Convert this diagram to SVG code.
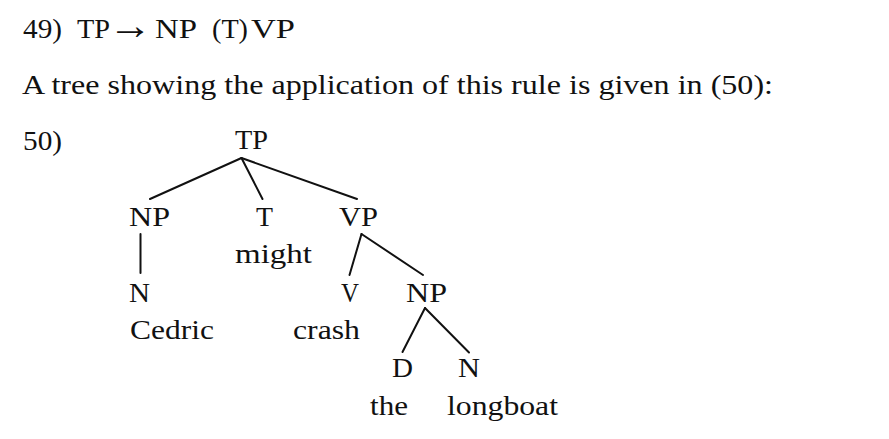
<svg xmlns="http://www.w3.org/2000/svg" width="889" height="439" viewBox="0 0 889 439">
<style>
text{font-family:"Liberation Serif","DejaVu Serif",serif;font-size:28px;fill:#111;}
.e{stroke:#111;stroke-width:2;fill:none;stroke-linecap:round;}
</style>
<rect width="889" height="439" fill="#fff"/>
<g id="header">
<text x="23" y="38" textLength="39" lengthAdjust="spacingAndGlyphs">49)</text>
<text x="77" y="38" textLength="33" lengthAdjust="spacingAndGlyphs">TP</text>
<text x="108" y="39" style="font-size:40px" textLength="44" lengthAdjust="spacingAndGlyphs">→</text>
<text x="155" y="38" textLength="42" lengthAdjust="spacingAndGlyphs">NP</text>
<text x="212" y="38" textLength="36" lengthAdjust="spacingAndGlyphs">(T)</text>
<text x="251" y="38" textLength="44" lengthAdjust="spacingAndGlyphs">VP</text>
<text x="22" y="94" textLength="751" lengthAdjust="spacingAndGlyphs">A tree showing the application of this rule is given in (50):</text>
<text x="23" y="150" textLength="39" lengthAdjust="spacingAndGlyphs">50)</text>
</g>
<g id="connectors">
<line class="e" x1="241.5" y1="158" x2="150" y2="199"/>
<line class="e" x1="241.5" y1="158" x2="262.5" y2="199"/>
<line class="e" x1="241.5" y1="158" x2="357" y2="199"/>
<line class="e" x1="140.5" y1="234" x2="140.5" y2="273"/>
<line class="e" x1="361.5" y1="234" x2="349.5" y2="275"/>
<line class="e" x1="361.5" y1="234" x2="423" y2="275"/>
<line class="e" x1="425" y1="308" x2="402.5" y2="352"/>
<line class="e" x1="425" y1="308" x2="469" y2="352.5"/>
</g>
<g id="TP"><text x="235" y="149" textLength="33" lengthAdjust="spacingAndGlyphs">TP</text></g>
<g id="NP1"><text x="129" y="226" textLength="41" lengthAdjust="spacingAndGlyphs">NP</text></g>
<g id="T"><text x="256" y="226" textLength="17" lengthAdjust="spacingAndGlyphs">T</text>
<text x="235" y="263" textLength="77" lengthAdjust="spacingAndGlyphs">might</text></g>
<g id="VP"><text x="339" y="226" textLength="39" lengthAdjust="spacingAndGlyphs">VP</text></g>
<g id="N1"><text x="129" y="301.5" textLength="21" lengthAdjust="spacingAndGlyphs">N</text>
<text x="130" y="339" textLength="84" lengthAdjust="spacingAndGlyphs">Cedric</text></g>
<g id="V"><text x="341" y="301.5" textLength="18" lengthAdjust="spacingAndGlyphs">V</text>
<text x="293" y="339" textLength="67" lengthAdjust="spacingAndGlyphs">crash</text></g>
<g id="NP2"><text x="406" y="301.5" textLength="41" lengthAdjust="spacingAndGlyphs">NP</text></g>
<g id="D"><text x="392" y="377" textLength="21" lengthAdjust="spacingAndGlyphs">D</text>
<text x="370" y="415" textLength="38" lengthAdjust="spacingAndGlyphs">the</text></g>
<g id="N2"><text x="458" y="377" textLength="22" lengthAdjust="spacingAndGlyphs">N</text>
<text x="447" y="415" textLength="111" lengthAdjust="spacingAndGlyphs">longboat</text></g>
</svg>
